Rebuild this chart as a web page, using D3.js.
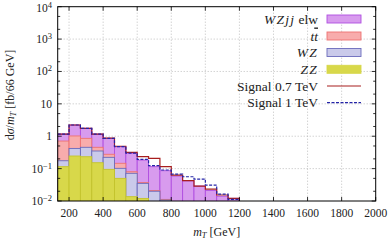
<!DOCTYPE html>
<html><head><meta charset="utf-8">
<script src="https://cdn.jsdelivr.net/npm/d3@7"></script>
<style>
body{margin:0;background:#fff}
text{font-family:"Liberation Serif","Times New Roman",serif;fill:#222}
</style></head>
<body><svg id="c" width="390" height="240"></svg>
<script>
// bin edges: width 66.67 GeV starting at 133.3
const binWidth = 200/3;
const binStart = 400/3;
const nBins = 16;
const zz    = [0.115,0.245,0.233,0.152,0.095,0.050,0.0136,0.012,0.004,0.002,0.001,0,0,0,0,0];
const wz    = [0.060,0.175,0.222,0.198,0.128,0.052,0.058,0.023,0.016,0.0087,0.004,0.003,0.002,0.001,0.001,0.0005];
const tt    = [0.535,0.600,0.405,0.105,0.054,0.044,0.0084,0.002,0.001,0.0005,0,0,0,0,0,0];
const wzjj  = [0.460,1.200,0.900,0.715,0.583,0.329,0.217,0.147,0.094,0.075,0.054,0.039,0.027,0.020,0.013,0.0116];
const sig07 = [1.17,2.22,1.76,1.17,0.87,0.49,0.317,0.233,0.208,0.115,0.063,0.0423,0.029,0.0234,0.0153,0.0121];
const sig1  = [1.17,2.22,1.76,1.17,0.86,0.475,0.30,0.194,0.123,0.0906,0.068,0.056,0.0477,0.031,0.0164,0.0113];
const xTicks = [200,400,600,800,1000,1200,1400,1600,1800,2000];
const yTicks = [1e-2,1e-1,1,10,100,1e3,1e4];
const yTickLabels = [["10","−2"],["10","−1"],["1",""],["10",""],["10","2"],["10","3"],["10","4"]];

const svg = d3.select("#c");
const m = {l:57.7, r:375.7, t:6.7, b:201};
const x = d3.scaleLinear().domain([400/3, 2000]).range([m.l, m.r]);
const y = d3.scaleLog().domain([1e-2, 1e4]).range([m.b, m.t]);

const bins = d3.range(nBins).map(i => ({x0: binStart + i*binWidth, x1: binStart + (i+1)*binWidth, i}));

// grid
const grid = svg.append("g").attr("stroke","#b0b0b0").attr("stroke-width",0.8).attr("stroke-dasharray","1,2");
xTicks.filter(v => v < 2000).forEach(v => grid.append("line").attr("x1",x(v)).attr("x2",x(v)).attr("y1",m.t).attr("y2",m.b));
yTicks.filter(v => v > 1e-2 && v < 1e4).forEach(v => grid.append("line").attr("x1",m.l).attr("x2",m.r).attr("y1",y(v)).attr("y2",y(v)));

svg.append("clipPath").attr("id","clip").append("rect").attr("x",m.l).attr("y",m.t).attr("width",m.r-m.l).attr("height",m.b-m.t);
const plot = svg.append("g").attr("clip-path","url(#clip)");

const cumZZ = zz.map(v=>v);
const cumWZ = zz.map((v,i)=>v+wz[i]);
const cumTT = cumWZ.map((v,i)=>v+tt[i]);
const cumAll = cumTT.map((v,i)=>v+wzjj[i]);
const layers = [
  {vals:cumAll, fill:"#d89bee", stroke:"#b04ee0"},
  {vals:cumTT, fill:"#f8acac", stroke:"#ee7272"},
  {vals:cumWZ, fill:"#cacaea", stroke:"#6a6abc"},
  {vals:cumZZ, fill:"#d8d84a", stroke:"#c4c42c"}
];
const ymin = 1e-2*0.5;
layers.forEach(L => {
  plot.append("g").selectAll("rect").data(bins).join("rect")
    .attr("x", d => x(d.x0)).attr("width", d => x(d.x1)-x(d.x0))
    .attr("y", d => y(Math.max(L.vals[d.i], ymin)))
    .attr("height", d => Math.max(0, y(ymin) - y(Math.max(L.vals[d.i], ymin))))
    .attr("fill", L.fill).attr("stroke", L.stroke).attr("stroke-width", 0.9);
});

function stepPath(vals){
  const p = d3.path();
  p.moveTo(x(bins[0].x0), y(Math.max(vals[0],ymin)));
  bins.forEach(d => {
    p.lineTo(x(d.x0), y(Math.max(vals[d.i],ymin)));
    p.lineTo(x(d.x1), y(Math.max(vals[d.i],ymin)));
  });
  p.lineTo(x(bins[nBins-1].x1), y(ymin));
  return p.toString();
}
plot.append("path").attr("d", stepPath(sig07)).attr("fill","none").attr("stroke","#a81e1e").attr("stroke-width",1.2);
plot.append("path").attr("d", stepPath(sig1)).attr("fill","none").attr("stroke","#2424a8").attr("stroke-width",1.2).attr("stroke-dasharray","3,1.5");

// frame
svg.append("rect").attr("x",m.l).attr("y",m.t).attr("width",m.r-m.l).attr("height",m.b-m.t).attr("fill","none").attr("stroke","#000").attr("stroke-width",1);

// ticks
const tk = svg.append("g").attr("stroke","#000").attr("stroke-width",0.8);
xTicks.forEach(v => {
  tk.append("line").attr("x1",x(v)).attr("x2",x(v)).attr("y1",m.b).attr("y2",m.b-4);
  tk.append("line").attr("x1",x(v)).attr("x2",x(v)).attr("y1",m.t).attr("y2",m.t+4);
});
yTicks.forEach(v => {
  tk.append("line").attr("x1",m.l).attr("x2",m.l+4).attr("y1",y(v)).attr("y2",y(v));
  tk.append("line").attr("x1",m.r).attr("x2",m.r-4).attr("y1",y(v)).attr("y2",y(v));
  if (v < 1e4) [2,5].forEach(k => {
    const w = v*k;
    tk.append("line").attr("x1",m.l).attr("x2",m.l+2.5).attr("y1",y(w)).attr("y2",y(w));
    tk.append("line").attr("x1",m.r).attr("x2",m.r-2.5).attr("y1",y(w)).attr("y2",y(w));
  });
});

// x tick labels
const xa = svg.append("g").attr("font-size",11.5).attr("text-anchor","middle");
xTicks.forEach(v => xa.append("text").attr("x",x(v)).attr("y",217).text(v));
// y tick labels
const ya = svg.append("g").attr("font-size",11.5).attr("text-anchor","end");
yTicks.forEach((v,i) => {
  const t = ya.append("text").attr("x",52).attr("y",Math.max(y(v)+4, 12));
  const [b,e] = yTickLabels[i];
  if (e) { t.append("tspan").text(b); t.append("tspan").attr("dy",-4).attr("font-size",8.5).text(e); }
  else t.text(b);
});

// axis titles
const xt = svg.append("text").attr("x",(m.l+m.r)/2).attr("y",236).attr("text-anchor","middle").attr("font-size",12);
xt.append("tspan").attr("font-style","italic").text("m");
xt.append("tspan").attr("font-style","italic").attr("font-size",8.5).attr("dy",2).text("T");
xt.append("tspan").attr("dy",-2).text(" [GeV]");

const yt = svg.append("text").attr("transform","translate(14,95) rotate(-90)").attr("text-anchor","middle").attr("font-size",12);
yt.append("tspan").text("d");
yt.append("tspan").attr("font-style","italic").text("σ");
yt.append("tspan").text("/");
yt.append("tspan").attr("font-style","italic").text("m");
yt.append("tspan").attr("font-style","italic").attr("font-size",8.5).attr("dy",2).text("T");
yt.append("tspan").attr("dy",-2).text(" [fb/66 GeV]");

// legend
const legendNames = ["WZjj elw","tt","WZ","ZZ","Signal 0.7 TeV","Signal 1 TeV"];
const lg = svg.append("g").attr("font-size",13.5);
const rows = [19,36,52.5,69.3,86,102.7];
const sw = [
  {fill:"#d89bee", stroke:"#b04ee0"},
  {fill:"#f8acac", stroke:"#ee7272"},
  {fill:"#cacaea", stroke:"#6a6abc"},
  {fill:"#d8d84a", stroke:"#d8d84a"}
];
rows.forEach((ry,i) => {
  const t = lg.append("text").attr("x",318).attr("y",ry+4.5).attr("text-anchor","end");
  if (i===0) { t.append("tspan").attr("font-style","italic").attr("letter-spacing",1.2).text("WZjj"); t.append("tspan").text(" elw"); }
  else if (i===1) { t.append("tspan").attr("font-style","italic").text("t"); t.append("tspan").attr("font-style","italic").style("text-decoration","overline").text("t"); }
  else if (i===2) t.attr("font-style","italic").attr("letter-spacing",1.2).text("WZ");
  else if (i===3) t.attr("font-style","italic").attr("letter-spacing",1.2).text("ZZ");
  else t.text(legendNames[i]);
  if (i < 4) lg.append("rect").attr("x",327).attr("y",ry-4).attr("width",34).attr("height",8).attr("fill",sw[i].fill).attr("stroke",sw[i].stroke).attr("stroke-width",0.9);
  else lg.append("line").attr("x1",327).attr("x2",361).attr("y1",ry).attr("y2",ry)
    .attr("stroke", i===4 ? "#a81e1e" : "#2424a8").attr("stroke-width",1.2).attr("stroke-dasharray", i===5 ? "3,1.5" : null);
});
</script></body></html>
